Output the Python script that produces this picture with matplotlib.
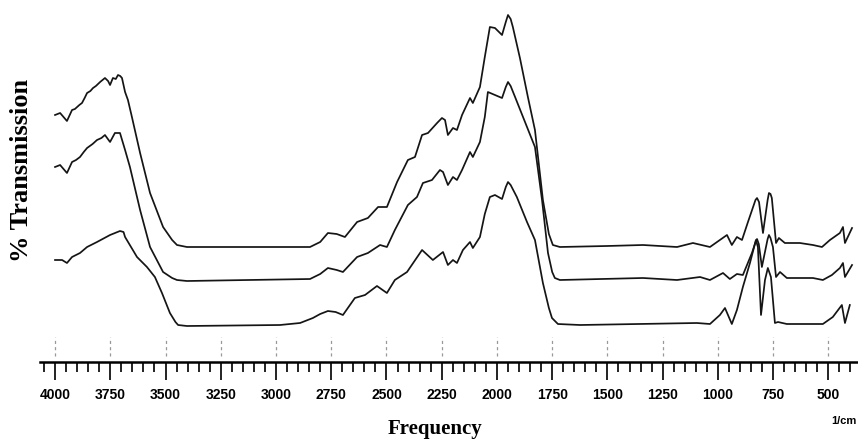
import matplotlib
matplotlib.use("Agg")
import matplotlib.pyplot as plt
from matplotlib.ticker import MultipleLocator, FixedLocator

# wavenumbers (1/cm) and relative transmission for the three spectra
wn_top = [4000, 3977, 3946, 3923, 3910, 3900, 3890, 3878, 3866, 3855, 3840, 3828, 3815, 3796,
          3785, 3774, 3760, 3751, 3738, 3725, 3715, 3705, 3697,
          3683, 3670, 3652, 3615, 3570, 3511, 3470, 3448, 3403, 2846, 2800, 2765, 2725, 2688, 2633,
          2584, 2538, 2498, 2452, 2403, 2371, 2339, 2312, 2271, 2249, 2235, 2222, 2199, 2181,
          2158, 2122, 2109, 2077, 2055, 2032, 2009, 1977, 1960, 1950, 1938, 1928, 1896, 1860,
          1828, 1792, 1765, 1747, 1715, 1502, 1339, 1185, 1113, 1036, 1004, 959, 937, 914, 891,
          864, 830, 823, 814, 796, 775, 769, 762, 756, 737, 724, 697, 629, 570, 529, 493, 448,
          434, 425, 393]
t_top = [247, 249, 241, 252, 253, 255, 257, 259, 264, 269, 271, 274, 276, 280,
         282, 284, 281, 277, 284, 283, 287, 286, 284,
         270, 262, 245, 209, 169, 135, 122, 117, 115, 115, 120, 129, 128, 125, 140,
         144, 155, 155, 180, 202, 205, 227, 229, 239, 244, 242, 227, 234, 232,
         247, 264, 259, 275, 305, 335, 334, 327, 340, 347, 343, 335, 304, 265,
         232, 162, 128, 117, 115, 116, 117, 115, 119, 115, 120, 127, 117, 125, 122,
         140, 162, 164, 160, 129, 162, 169, 168, 164, 119, 124, 119, 119, 117, 115, 122, 129,
         135, 119, 134]

wn_mid = [4000, 3977, 3946, 3923, 3905, 3887, 3870, 3855, 3830, 3810, 3790, 3774, 3751, 3729,
          3706, 3683, 3661, 3615, 3570, 3511, 3470, 3448, 3403, 2846, 2800, 2765, 2725, 2697, 2633,
          2584, 2529, 2498, 2462, 2403, 2362, 2335, 2294, 2258, 2244, 2222, 2199, 2181, 2158,
          2122, 2109, 2077, 2055, 2041, 2009, 1977, 1960, 1950, 1938, 1918, 1864, 1828, 1796,
          1769, 1750, 1738, 1715, 1339, 1185, 1081, 1036, 977, 946, 914, 887, 846, 828, 823,
          815, 801, 775, 769, 762, 751, 737, 719, 688, 629, 570, 525, 484, 448, 434, 425, 393]
t_mid = [195, 197, 189, 200, 202, 205, 210, 214, 218, 222, 224, 227, 220, 229,
         229, 212, 195, 152, 115, 90, 84, 82, 81, 83, 88, 94, 92, 90, 105,
         109, 117, 115, 132, 157, 165, 179, 182, 192, 190, 177, 185, 182, 192,
         210, 205, 220, 245, 270, 267, 264, 275, 280, 276, 265, 235, 215, 162,
         109, 90, 84, 82, 84, 82, 85, 82, 89, 83, 88, 87, 109, 121, 123,
         118, 95, 123, 127, 124, 115, 85, 90, 84, 84, 84, 82, 87, 94, 99, 85, 97]

wn_bot = [4000, 3968, 3946, 3923, 3887, 3855, 3810, 3751, 3706, 3690, 3683, 3629, 3584, 3548, 3516,
          3480, 3455, 3443, 3403, 2982, 2891, 2833, 2800, 2765, 2730, 2697, 2643, 2597, 2543, 2498,
          2462, 2407, 2339, 2290, 2244, 2222, 2199, 2181, 2154, 2122, 2109, 2077, 2055, 2032,
          2009, 1977, 1960, 1950, 1938, 1910, 1864, 1828, 1792, 1765, 1751, 1724, 1624, 1095,
          1036, 991, 968, 937, 914, 887, 855, 828, 819, 805, 787, 774, 760, 742, 728, 688,
          525, 480, 439, 425, 403]
t_bot = [102, 102, 99, 105, 109, 115, 120, 127, 131, 130, 125, 105, 95, 85, 69,
         49, 40, 37, 36, 37, 39, 44, 48, 51, 50, 47, 64, 67, 76, 69,
         82, 90, 112, 102, 110, 97, 102, 99, 112, 120, 114, 125, 148, 165,
         167, 163, 175, 180, 177, 165, 140, 122, 79, 54, 44, 38, 37, 39,
         38, 47, 54, 38, 52, 75, 99, 122, 115, 47, 82, 94, 85, 39, 40, 38,
         38, 45, 57, 39, 57]

major_ticks = [4000, 3750, 3500, 3250, 3000, 2750, 2500, 2250, 2000, 1750, 1500, 1250, 1000, 750, 500]
tick_labels = [str(v) for v in major_ticks]

fig = plt.figure(figsize=(8.58, 4.42), dpi=100)
ax = fig.add_axes([40 / 858, 80 / 442, 818 / 858, 362 / 442])

for wn, t in [(wn_top, t_top), (wn_mid, t_mid), (wn_bot, t_bot)]:
    ax.plot(wn, t, color="#151515", lw=1.25, solid_joinstyle="round")

ax.set_xlim(4068, 366)
ax.set_ylim(0, 362)

ax.vlines(major_ticks, 6, 25, colors="#999999", linestyles=(0, (2.5, 2.5)), lw=0.9)

for s in ["left", "right", "top"]:
    ax.spines[s].set_visible(False)
ax.spines["bottom"].set_linewidth(1.8)
ax.set_yticks([])
ax.xaxis.set_major_locator(FixedLocator(major_ticks))
ax.xaxis.set_minor_locator(MultipleLocator(50))
ax.set_xticklabels(tick_labels, fontfamily="Liberation Sans", fontweight="bold", fontsize=10)
ax.tick_params(axis="x", which="major", direction="out", length=13, width=1.4, pad=6, color="#222222")
ax.tick_params(axis="x", which="minor", direction="out", length=7, width=1.4, color="#222222")

fig.text(857 / 858, 1 - 421 / 442, "1/cm", ha="right", va="center",
         fontfamily="Liberation Sans", fontweight="bold", fontsize=8)
fig.text(435 / 858, 1 - 429 / 442, "Frequency", ha="center", va="center",
         fontfamily="Liberation Serif", fontweight="bold", fontsize=15)
fig.text(22 / 858, 1 - 170 / 442, "% Transmission", ha="center", va="center", rotation=90,
         fontfamily="Liberation Serif", fontweight="bold", fontsize=19)

fig.savefig("out.png", dpi=100)
